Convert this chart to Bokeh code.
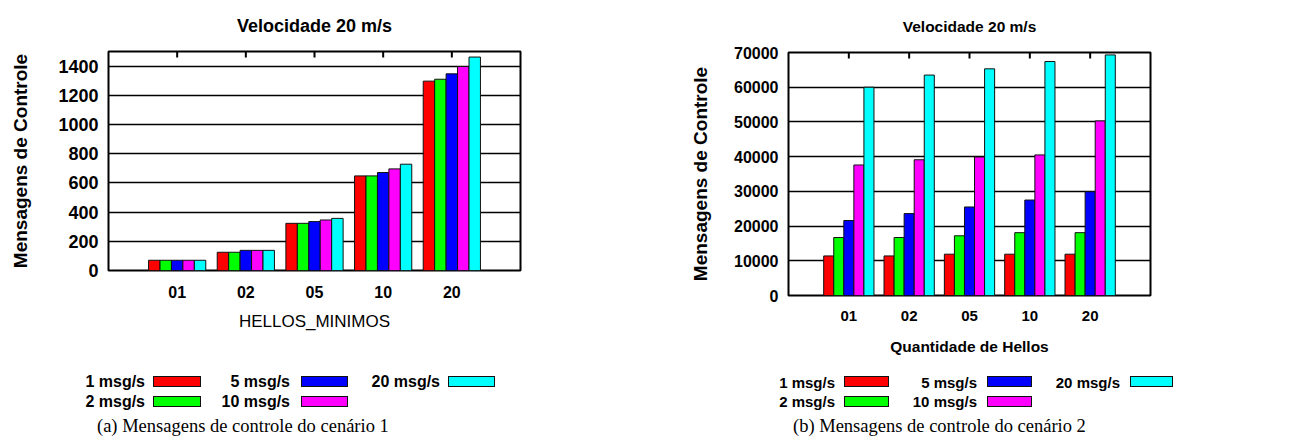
from bokeh.plotting import figure
from bokeh.models import Range1d, FixedTicker, ColumnDataSource, Div
from bokeh.layouts import row, column
from bokeh.embed import file_html
from bokeh.resources import INLINE
from bokeh.transform import dodge

# ---------------- data ----------------
categories = ["01", "02", "05", "10", "20"]
series = ["1 msg/s", "2 msg/s", "5 msg/s", "10 msg/s", "20 msg/s"]
colors = ["#ff0000", "#00ff00", "#0000ff", "#ff00ff", "#00ffff"]

# cenário 1 (HELLOS_MINIMOS)
c1_1msg = [70, 125, 323, 648, 1297]
c1_2msg = [70, 125, 323, 648, 1310]
c1_5msg = [70, 138, 335, 671, 1347]
c1_10msg = [70, 138, 346, 696, 1397]
c1_20msg = [70, 138, 357, 728, 1462]

# cenário 2 (Quantidade de Hellos)
c2_1msg = [11400, 11400, 11900, 11900, 11900]
c2_2msg = [16700, 16700, 17200, 18100, 18100]
c2_5msg = [21600, 23600, 25500, 27500, 29900]
c2_10msg = [37600, 39100, 39900, 40500, 50300]
c2_20msg = [60000, 63500, 65300, 67400, 69300]

title_text = "Velocidade 20 m/s"
ylabel_text = "Mensagens de Controle"
xlabel_a = "HELLOS_MINIMOS"
xlabel_b = "Quantidade de Hellos"
caption_a = "(a) Mensagens de controle do cenário 1"
caption_b = "(b) Mensagens de controle do cenário 2"

SANS = "Liberation Sans"
SERIF = "Liberation Serif"


def make_chart(vals, ymax, ystep, xlabel, xlabel_bold, W, H, bl, br, bt, bb,
               fs_title, fs_tick, fs_xtick, fs_ylab, fs_xlab,
               ylab_standoff, xtick_standoff, xlab_standoff, title_standoff):
    frame_h = H - bt - bb
    p = figure(width=W, height=H, x_range=Range1d(-1, 5), y_range=Range1d(0, ymax),
               output_backend="svg", toolbar_location=None,
               min_border_left=bl, min_border_right=br, min_border_top=bt, min_border_bottom=bb)
    data = dict(x=list(range(len(categories))))
    for j, v in enumerate(vals):
        data["s%d" % j] = v
    src = ColumnDataSource(data)
    n = len(series)
    w = 1.0 / (n + 1)
    for j, (name, col) in enumerate(zip(series, colors)):
        p.vbar(x=dodge("x", (j - (n - 1) / 2) * w), top="s%d" % j, width=w, source=src,
               fill_color=col, line_color="#111111", line_width=1)

    # inward tick marks on the top border (mirror of the x ticks)
    tick_len = ymax * 6.0 / frame_h
    p.segment(x0="x", x1="x", y0=ymax, y1=ymax - tick_len, source=src,
              line_color="black", line_width=2)

    p.title.text = title_text
    p.title.align = "center"
    p.title.vertical_align = "top"
    p.title.text_font = SANS
    p.title.text_font_style = "bold"
    p.title.text_font_size = fs_title
    p.title.text_color = "black"
    p.title.standoff = title_standoff

    p.outline_line_color = "black"
    p.outline_line_width = 2
    p.outline_line_alpha = 1

    p.xgrid.grid_line_color = None
    p.ygrid.grid_line_color = "black"
    p.ygrid.grid_line_width = 1.3
    p.ygrid.grid_line_alpha = 1
    p.ygrid.ticker = FixedTicker(ticks=list(range(0, ymax + 1, ystep)))

    xa = p.xaxis[0]
    xa.ticker = FixedTicker(ticks=list(range(len(categories))))
    xa.major_label_overrides = {i: c for i, c in enumerate(categories)}
    xa.axis_line_color = None
    xa.major_tick_in = 0
    xa.major_tick_out = 0
    xa.minor_tick_line_color = None
    xa.major_label_text_font = SANS
    xa.major_label_text_font_style = "bold"
    xa.major_label_text_font_size = fs_xtick
    xa.major_label_text_color = "black"
    xa.major_label_standoff = xtick_standoff
    xa.axis_label = xlabel
    xa.axis_label_text_font = SANS
    xa.axis_label_text_font_style = "bold" if xlabel_bold else "normal"
    xa.axis_label_text_font_size = fs_xlab
    xa.axis_label_text_color = "black"
    xa.axis_label_standoff = xlab_standoff

    ya = p.yaxis[0]
    ya.ticker = FixedTicker(ticks=list(range(0, ymax + 1, ystep)))
    ya.axis_line_color = None
    ya.major_tick_in = 0
    ya.major_tick_out = 0
    ya.minor_tick_line_color = None
    ya.major_label_text_font = SANS
    ya.major_label_text_font_style = "bold"
    ya.major_label_text_font_size = fs_tick
    ya.major_label_text_color = "black"
    ya.major_label_standoff = 10
    ya.axis_label = ylabel_text
    ya.axis_label_text_font = SANS
    ya.axis_label_text_font_style = "bold"
    ya.axis_label_text_font_size = fs_ylab
    ya.axis_label_text_color = "black"
    ya.axis_label_standoff = ylab_standoff
    return p


def make_legend(W, H, ox, oy, text_end, sw0, sw1, text_top, sw_top, sw_h, fs,
                caption, cap_x, cap_top, fs_cap):
    parts = ['<div style="position:relative;width:%dpx;height:%dpx;overflow:hidden;">' % (W, H)]
    for j, name in enumerate(series):
        c, rr = j // 2, j % 2
        parts.append(
            '<span style="position:absolute;right:%.1fpx;top:%.1fpx;height:18px;line-height:18px;'
            'white-space:nowrap;font-family:\'%s\';font-weight:bold;font-size:%s;color:black;">%s</span>'
            % (W - (text_end[c] - ox), text_top[rr] - oy, SANS, fs, name))
        parts.append(
            '<div style="position:absolute;left:%.1fpx;top:%.1fpx;width:%.1fpx;height:%.1fpx;'
            'box-sizing:border-box;border:1px solid #111111;background:%s;"></div>'
            % (sw0[c] - ox, sw_top[rr] - oy, sw1[c] - sw0[c], sw_h, colors[j]))
    parts.append(
        '<span style="position:absolute;left:%.1fpx;top:%.1fpx;height:20px;line-height:20px;'
        'white-space:nowrap;font-family:\'%s\';font-size:%s;color:black;">%s</span>'
        % (cap_x - ox, cap_top - oy, SERIF, fs_cap, caption))
    parts.append('</div>')
    return Div(text="".join(parts), width=W, height=H, margin=(0, 0, 0, 0))


# left column: page x 0..660
WL = 660
HCH = 364
HLEG = 436 - HCH
pa = make_chart([c1_1msg, c1_2msg, c1_5msg, c1_10msg, c1_20msg], 1500, 200, xlabel_a, False,
                WL, HCH, 108, 140, 51, HCH - 51 - 219,
                "18px", "18px", "16px", "19px", "17px", 24, 15, 11, 28)
la = make_legend(WL, HLEG, 0, HCH, [145, 290, 440], [153, 301, 448], [201, 348, 495],
                 [372.5, 392.5], [376, 396], 10.5, "16px", caption_a, 97, 415.5, "18.5px")

# right column: page x 660..1304
WR = 644
pb = make_chart([c2_1msg, c2_2msg, c2_5msg, c2_10msg, c2_20msg], 70000, 10000, xlabel_b, True,
                WR, HCH, 128, 154, 52, HCH - 52 - 243,
                "15.5px", "16px", "15px", "19px", "15.5px", 20, 15, 14, 32)
lb = make_legend(WR, HLEG, 660, HCH, [835, 977, 1120], [844, 987, 1130], [889, 1032, 1173],
                 [373.8, 393.3], [376, 396], 10.5, "15px", caption_b, 793, 415.5, "18.5px")

layout = row(column(pa, la), column(pb, lb))
open("out.html", "w").write(file_html(layout, INLINE))
